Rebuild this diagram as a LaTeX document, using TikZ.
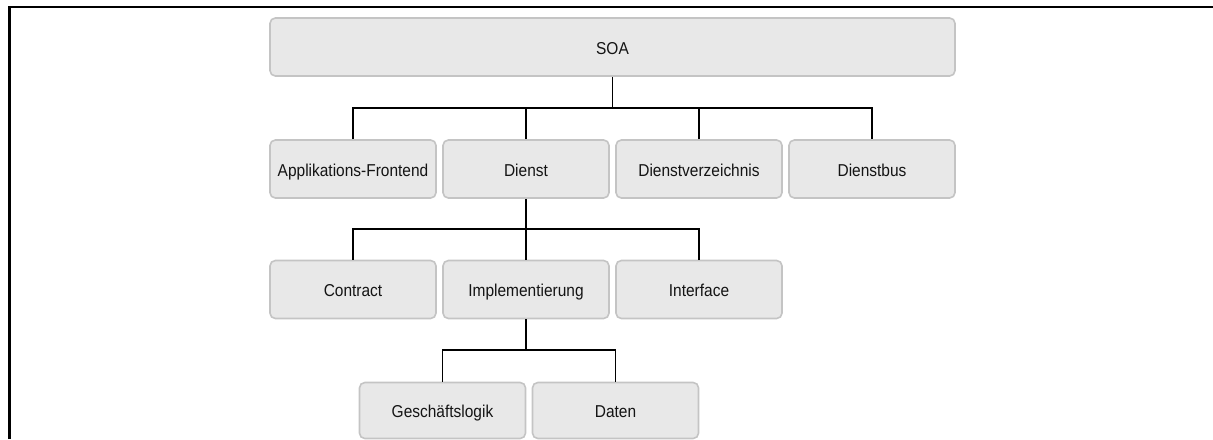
\documentclass[tikz,border=0pt]{standalone}
\usepackage{fontspec}
\setmainfont{Liberation Sans}[FakeStretch=0.9]
\definecolor{boxfill}{HTML}{E8E8E8}
\definecolor{boxline}{HTML}{C4C4C4}
\definecolor{boxtext}{HTML}{141414}
\begin{document}
\begin{tikzpicture}[x=0.75pt,y=-0.75pt,
  box/.style={draw=boxline, fill=boxfill, line width=1.2pt, rounded corners=4pt,
    minimum width=124.5pt, minimum height=43.5pt, inner sep=0pt,
    text height=12pt, text depth=1.5pt,
    text=boxtext, font=\fontsize{12.9pt}{15pt}\selectfont},
  link/.style={draw=black, line width=1.1pt}]
\useasboundingbox (0,0) rectangle (1213,439);
% open frame: left and top edges only
\draw[line width=2.2pt] (9.5,439) -- (9.5,7) -- (1213,7);

% top level
\node[box, minimum width=513.75pt] (soa) at (612.5,47) {SOA};

% second level
\node[box] (app)  at (353,169) {Applikations-Frontend};
\node[box] (dienst) at (526,169) {Dienst};
\node[box] (dvz)  at (699,169) {Dienstverzeichnis};
\node[box] (bus)  at (872,169) {Dienstbus};

% third level
\node[box] (contract)  at (353,289.5) {Contract};
\node[box] (impl)      at (526,289.5) {Implementierung};
\node[box] (interface) at (699,289.5) {Interface};

% fourth level
\node[box, minimum height=42pt] (gl)    at (442.5,410.5) {Geschäftslogik};
\node[box, minimum height=42pt] (daten) at (615.5,410.5) {Daten};

% tree connectors
\coordinate (b1) at (612.5,108);
\coordinate (b2) at (526,229);
\coordinate (b3) at (526,350);

\draw[link] (soa.south) -- (b1);
\draw[link] (app.north) |- (b1) -| (bus.north);
\draw[link] (dienst.north) -- (dienst.north |- b1);
\draw[link] (dvz.north) -- (dvz.north |- b1);

\draw[link] (dienst.south) -- (impl.north);
\draw[link] (contract.north) |- (b2) -| (interface.north);

\draw[link] (impl.south) -- (b3);
\draw[link] (gl.north) |- (b3) -| (daten.north);
\end{tikzpicture}
\end{document}
